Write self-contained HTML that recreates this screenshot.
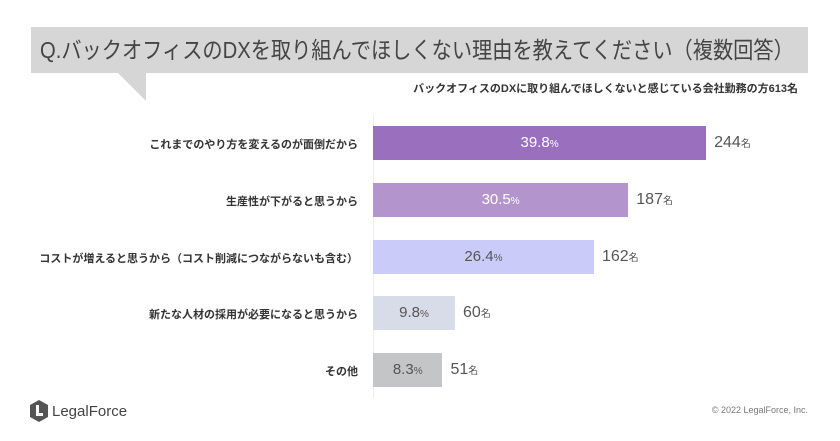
<!DOCTYPE html>
<html><head><meta charset="utf-8">
<style>
body{margin:0;width:840px;height:441px;background:#fff;overflow:hidden;position:relative;font-family:"Liberation Sans","Noto Sans CJK JP",sans-serif;}
.abs{position:absolute;}
#title{left:31px;top:27px;width:777px;height:46px;background:#d6d6d6;color:#444;font-size:23px;line-height:46px;box-sizing:border-box;white-space:nowrap;overflow:hidden;}
#titletext{position:absolute;left:9px;top:0;transform-origin:0 50%;display:inline-block;}
#sub{right:42px;top:80px;font-size:11px;font-weight:bold;color:#333;white-space:nowrap;}
.cat{right:482px;font-size:11px;font-weight:bold;color:#333;white-space:nowrap;}
.pct{font-size:15px;text-align:center;line-height:34px;}
.pct small{font-size:10px;}
.cnt{font-size:16px;color:#555;line-height:34px;white-space:nowrap;}
.cnt small{font-size:10px;}
</style></head><body>
<div id="title" class="abs"><span id="titletext">Q.バックオフィスのDXを取り組んでほしくない理由を教えてください（複数回答）</span></div>
<svg class="abs" style="left:0;top:0" width="840" height="441"><polygon points="118,73 146,73 146,101" fill="#d6d6d6"/><line x1="373.5" y1="115" x2="373.5" y2="398" stroke="#eee" stroke-width="1"/></svg>
<div id="sub" class="abs">バックオフィスのDXに取り組んでほしくないと感じている会社勤務の方613名</div>
<div id="chart"></div>
<div class="abs" style="left:30px;top:400px;display:flex;align-items:center;gap:4px;">
<svg width="18" height="22"><polygon points="9,0 18,5 18,17 9,22 0,17 0,5" fill="#555"/><rect x="6" y="5" width="3" height="11" fill="#fff"/><rect x="6" y="13" width="7" height="3" fill="#fff"/></svg>
<span style="font-size:15px;color:#444;">LegalForce</span></div>
<div class="abs" style="right:32px;top:405px;font-size:9px;color:#777;">© 2022 LegalForce, Inc.</div>
<script>
const categories=["これまでのやり方を変えるのが面倒だから","生産性が下がると思うから","コストが増えると思うから（コスト削減につながらないも含む）","新たな人材の採用が必要になると思うから","その他"];
const percents=[39.8,30.5,26.4,9.8,8.3];
const counts=[244,187,162,60,51];
const colors=["#9a6fbd","#b394cc","#cbcbfa","#d8dbe8","#c4c5c7"];
const textColors=["#fff","#fff","#555","#555","#555"];
const x0=373,pxPer=8.37,top0=126,step=56.75,bh=34;
const xs=v=>v*pxPer;
const tt=document.getElementById('titletext');
tt.style.transform='scaleX('+(754/tt.offsetWidth)+')';
const c=document.getElementById('chart');
percents.forEach((p,i)=>{
  const y=top0+i*step;
  const lab=document.createElement('div');
  lab.className='abs cat';lab.style.top=(y+10)+'px';lab.textContent=categories[i];
  
  
  c.appendChild(lab);
  const b=document.createElement('div');
  b.className='abs pct';
  b.style.cssText+=`left:${x0}px;top:${y}px;width:${xs(p)}px;height:${bh}px;background:${colors[i]};color:${textColors[i]};`;
  b.innerHTML=p.toFixed(1)+'<small>%</small>';
  
  
  c.appendChild(b);
  const n=document.createElement('div');
  n.className='abs cnt';
  n.style.left=(x0+xs(p)+8)+'px';n.style.top=y+'px';
  n.innerHTML=counts[i]+'<small>名</small>';
  
  
  c.appendChild(n);
});
</script>
</body></html>
